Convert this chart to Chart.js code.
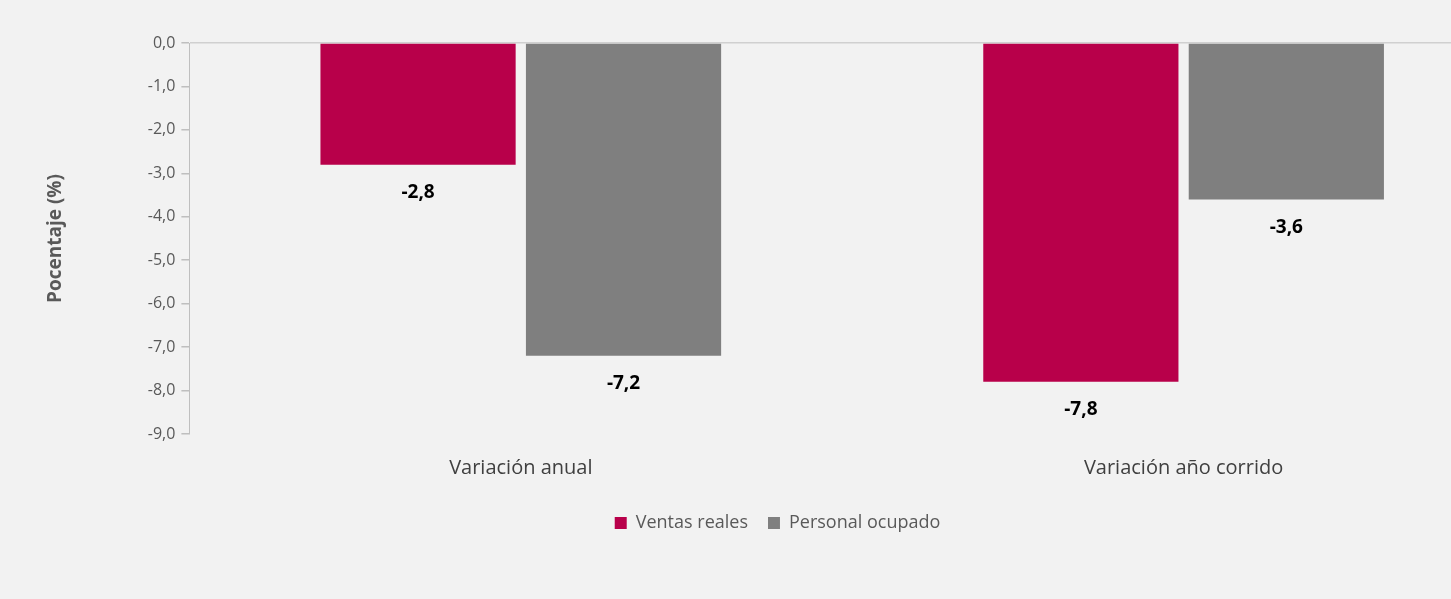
<!DOCTYPE html>
<html><head><meta charset="utf-8">
<script src="https://cdn.jsdelivr.net/npm/chart.js@4"></script>
<style>html,body{margin:0;padding:0;background:#f2f2f2;overflow:hidden}#w{width:1515px;height:599px}</style>
</head><body><div id="w"><canvas id="c"></canvas></div>
<script>
const categories=["Variación anual","Variación año corrido"];
const ventas=[-2.8,-7.8];
const personal=[-7.2,-3.6];
const seriesNames=["Ventas reales","Personal ocupado"];
const labelsPlugin={id:'lbl',afterDatasetsDraw(ch){const c=ch.ctx;c.save();c.font='bold 19px "Open Sans"';c.fillStyle='#000';c.textAlign='center';c.textBaseline='middle';
ch.data.datasets.forEach((d,i)=>{ch.getDatasetMeta(i).data.forEach((b,j)=>{c.fillText(d.data[j].toFixed(1).replace('.',','),b.x,b.y+28);});});c.restore();}};
new Chart(document.getElementById('c'),{type:'bar',
data:{labels:categories,datasets:[
{label:seriesNames[0],data:ventas,backgroundColor:'#b8004a'},
{label:seriesNames[1],data:personal,backgroundColor:'#7f7f7f'}]},
options:{responsive:true,maintainAspectRatio:false,animation:false,
layout:{padding:{top:43,left:40,bottom:57}},
categoryPercentage:0.62,barPercentage:0.95,
plugins:{tooltip:{enabled:false},legend:{position:'bottom',labels:{boxWidth:12,boxHeight:12,padding:20,color:'#595959',font:{family:'Open Sans',size:18}},
 },},
scales:{
x:{grid:{display:false},border:{display:false},ticks:{color:'#404040',font:{family:'Open Sans',size:20},padding:14}},
y:{min:-9,max:0,ticks:{stepSize:1,color:'#595959',font:{family:'Open Sans',size:16},padding:6,callback:v=>v.toFixed(1).replace('.',',')},
 grid:{color:c=>c.tick&&c.tick.value===0?'#d0d0d0':'rgba(0,0,0,0)',tickColor:'#bfbfbf',tickLength:8,lineWidth:1.5},
 border:{color:'#bfbfbf'},
 title:{display:true,text:'Pocentaje (%)',color:'#595959',font:{family:'Open Sans',size:19,weight:'bold'},padding:{bottom:75}}}}},
plugins:[labelsPlugin]});
</script></body></html>
